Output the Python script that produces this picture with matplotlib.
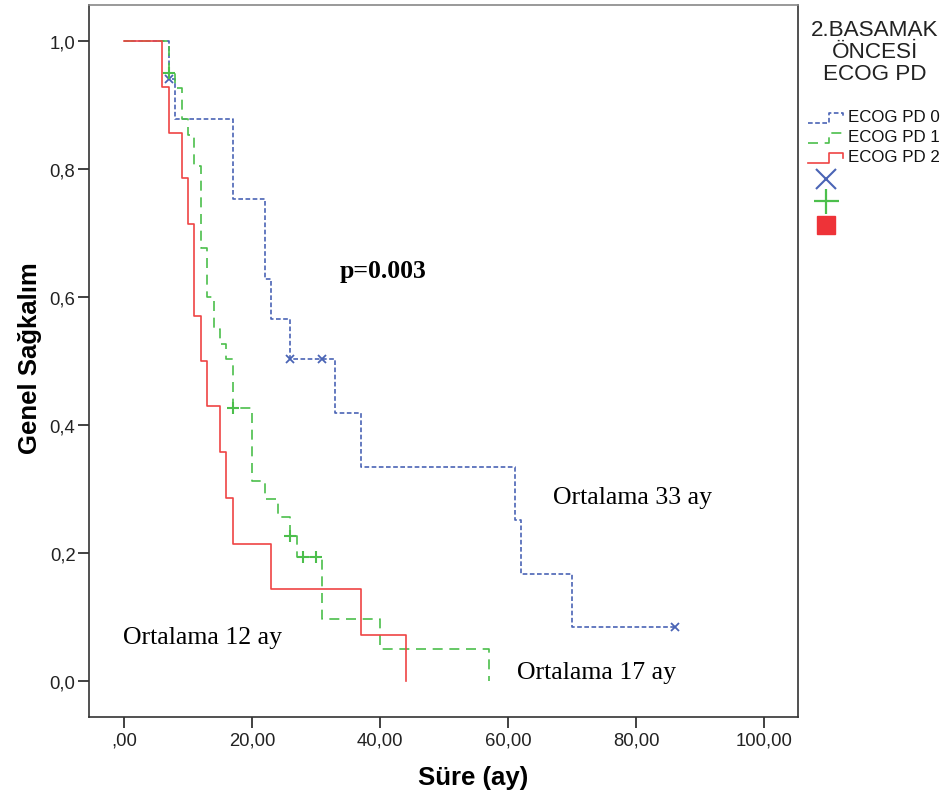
import matplotlib

matplotlib.use("Agg")
import matplotlib.pyplot as plt
from matplotlib.lines import Line2D
from matplotlib.patches import Rectangle

# Kaplan-Meier steps (time in months, survival after step)
group_names = ["ECOG PD 0", "ECOG PD 1", "ECOG PD 2"]

pd0_t = [0, 7, 8, 17, 22, 23, 26, 33, 37, 61, 62, 70, 86]
pd0_s = [1.0, 0.941, 0.879, 0.753, 0.628, 0.566, 0.503, 0.419, 0.335, 0.252, 0.167, 0.084, 0.084]
pd0_cens_t = [7, 26, 31, 86]
pd0_cens_s = [0.941, 0.503, 0.503, 0.084]

pd1_t = [0, 7, 8, 9, 10, 11, 12, 13, 14, 15, 16, 17, 20, 22, 24, 26, 27, 31, 40, 57]
pd1_s = [1.0, 0.951, 0.927, 0.878, 0.853, 0.805, 0.676, 0.600, 0.550, 0.527, 0.503,
         0.426, 0.313, 0.284, 0.256, 0.226, 0.194, 0.097, 0.049, 0.0]
pd1_cens_t = [7, 17, 26, 28, 30]
pd1_cens_s = [0.951, 0.426, 0.226, 0.194, 0.194]

pd2_t = [0, 6, 7, 9, 10, 11, 12, 13, 15, 16, 17, 23, 37, 44]
pd2_s = [1.0, 0.929, 0.857, 0.786, 0.714, 0.571, 0.5, 0.429, 0.357, 0.286, 0.214, 0.143, 0.071, 0.0]

x_ticks = [0, 20, 40, 60, 80, 100]
x_tick_labels = [",00", "20,00", "40,00", "60,00", "80,00", "100,00"]
y_ticks = [0.0, 0.2, 0.4, 0.6, 0.8, 1.0]
y_tick_labels = ["0,0", "0,2", "0,4", "0,6", "0,8", "1,0"]

annotations = [
    ("p=0.003", 33.7, 0.641, "bold"),
    ("Ortalama 33 ay", 67.0, 0.288, "normal"),
    ("Ortalama 12 ay", -0.2, 0.069, "normal"),
    ("Ortalama 17 ay", 61.4, 0.014, "normal"),
]

BLUE = "#4a64b5"
GREEN = "#4cbf4c"
RED = "#ef4444"
styles = [
    dict(color=BLUE, lw=1.2, linestyle=(0, (2.8, 1.5))),
    dict(color=GREEN, lw=1.2, linestyle=(0, (6.0, 4.0))),
    dict(color=RED, lw=1.2, linestyle="-"),
]

SANS = "Liberation Sans"
SERIF = "Liberation Serif"

W, H = 947, 803
fig = plt.figure(figsize=(W / 100, H / 100), dpi=100)
left, right, top, bottom = 89.3, 797.7, 5.7, 718.3
ax = fig.add_axes([left / W, 1 - bottom / H, (right - left) / W, (bottom - top) / H])

ax.step(pd0_t, pd0_s, where="post", **styles[0])
ax.step(pd1_t, pd1_s, where="post", **styles[1])
ax.step(pd2_t, pd2_s, where="post", **styles[2])
ax.plot(pd0_cens_t, pd0_cens_s, ls="none", marker="x", ms=6, mew=1.3, color=BLUE)
ax.plot(pd1_cens_t, pd1_cens_s, ls="none", marker="+", ms=9, mew=1.5, color=GREEN)

ax.set_xlim(-5.4, 105.2)
ax.set_ylim(-0.057, 1.057)
ax.set_xticks(x_ticks)
ax.set_xticklabels(x_tick_labels, fontsize=13.3, family=SANS, color="#222222")
ax.set_yticks(y_ticks)
ax.set_yticklabels(y_tick_labels, fontsize=13.3, family=SANS, color="#222222")
ax.tick_params(direction="out", length=8, width=1.3, color="#333333", pad=2)
for name, sp in ax.spines.items():
    sp.set_linewidth(1.2)
    sp.set_color("#888888" if name == "top" else "#333333")

for txt, x, y, weight in annotations:
    ax.text(x, y, txt, family=SERIF, fontsize=18.5, fontweight=weight,
            ha="left", va="center", color="black")

fig.text(473 / W, 1 - 778 / H, "Süre (ay)", family=SANS, fontsize=18.5,
         fontweight="bold", ha="center", va="center")
fig.text(30 / W, 1 - 358 / H, "Genel Sağkalım", family=SANS, fontsize=18.5,
         fontweight="bold", ha="center", va="center", rotation=90)

# legend drawn in pixel space at the right
lax = fig.add_axes([800 / W, 0, (W - 800) / W, 1])
lax.set_xlim(800, W)
lax.set_ylim(H, 0)
lax.axis("off")
for i, line in enumerate(["2.BASAMAK", "ÖNCESİ", "ECOG PD"]):
    lax.text(875, 30 + 22 * i, line, family=SANS, fontsize=16.2,
             ha="center", va="center", color="#222222")
for i, (label, st) in enumerate(zip(group_names, styles)):
    yc = 117.5 + 20 * i
    lax.add_line(Line2D([808, 829, 829, 843, 843], [yc + 6, yc + 6, yc - 4, yc - 4, yc + 1], **st))
    lax.text(848, yc, label, family=SANS, fontsize=12.2, ha="left", va="center", color="#111111")
lax.plot([826], [180], marker="x", ms=14, mew=1.5, color=BLUE)
lax.plot([826], [201.5], marker="+", ms=18, mew=1.6, color=GREEN)
lax.add_patch(Rectangle((817, 217), 18, 18, color="#ee3338"))

fig.savefig("out.png", dpi=100)
